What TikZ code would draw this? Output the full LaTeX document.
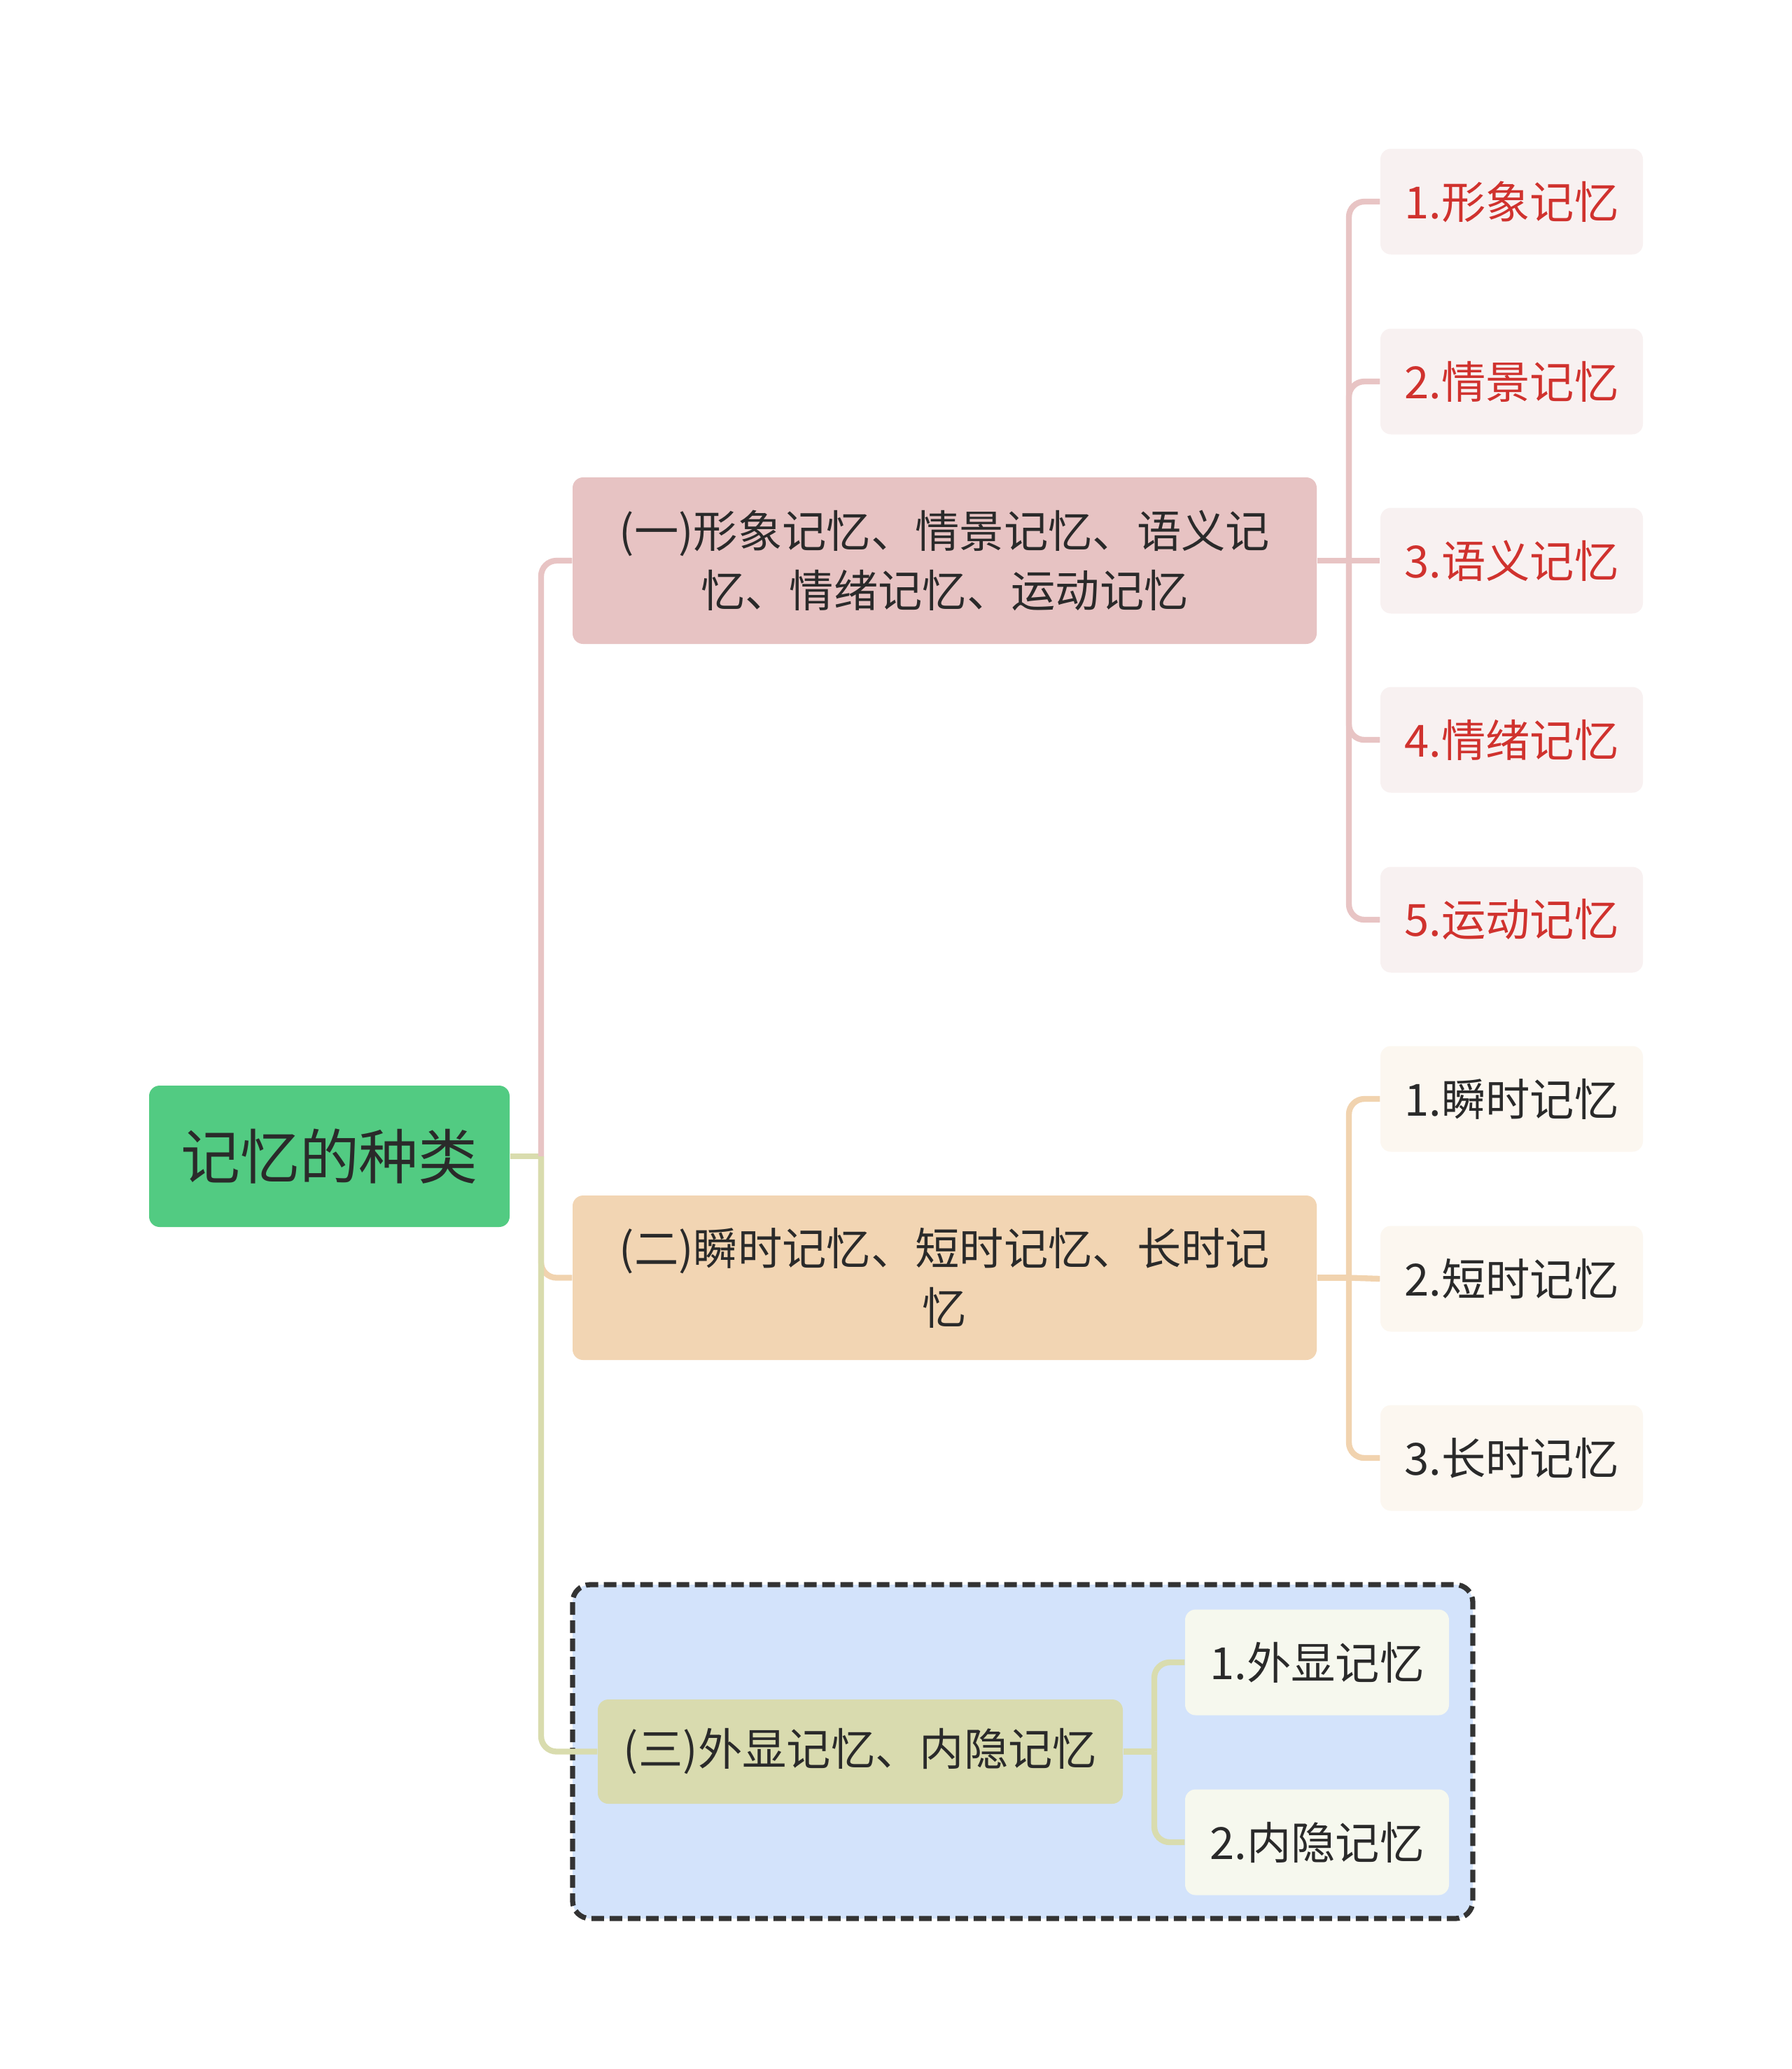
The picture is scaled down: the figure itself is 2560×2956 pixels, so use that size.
\documentclass[tikz,border=0pt]{standalone}
\usepackage{fontspec}
\setmainfont{Noto Sans CJK SC}
\definecolor{rootfill}{HTML}{52CB82}
\definecolor{txt}{HTML}{2A2A2A}
\definecolor{pinkfill}{HTML}{E7C3C3}
\definecolor{pinkline}{HTML}{E8C4C4}
\definecolor{peachfill}{HTML}{F2D5B3}
\definecolor{peachline}{HTML}{F1D3AF}
\definecolor{olivefill}{HTML}{D9DBAF}
\definecolor{oliveline}{HTML}{D9DCAE}
\definecolor{pinkchild}{HTML}{F8F1F1}
\definecolor{peachchild}{HTML}{FCF7F0}
\definecolor{olivechild}{HTML}{F6F8EE}
\definecolor{redtxt}{HTML}{D0322E}
\definecolor{bluebg}{HTML}{D3E3FB}
\definecolor{dashcol}{HTML}{333333}
\begin{document}
\begin{tikzpicture}[x=0.3pt,y=-0.3pt,
  box/.style={rounded corners=4.5pt, inner sep=0pt, align=center, text=txt, font=\fontsize{19}{25.5}\selectfont},
  rootbox/.style={box, fill=rootfill, minimum width=154.5pt, minimum height=60.6pt, font=\fontsize{25.5}{30}\selectfont},
  branchbox/.style={box, minimum width=318.9pt},
  childbox/.style={box, minimum width=112.5pt, minimum height=45.3pt},
  conn/.style={line width=2.5pt},
  rconn/.style={conn, rounded corners=6.6pt}
]
\useasboundingbox (0,0) rectangle (2560,2956);
\fill[white] (0,0) rectangle (2560,2956);

% dashed summary region
\draw[fill=bluebg, draw=dashcol, line width=2.2pt, dash pattern=on 5.4pt off 2.4pt, rounded corners=7.5pt]
  (818,2264) rectangle (2104,2741);

% nodes
\node[rootbox] (root) at (470.5,1652) {记忆的种类};

\node[branchbox, fill=pinkfill, minimum height=71.4pt] (b1) at (1349.5,801)
  {(一)形象记忆、情景记忆、语义记\\忆、情绪记忆、运动记忆};
\node[branchbox, fill=peachfill, minimum height=70.5pt] (b2) at (1349.5,1825.5)
  {(二)瞬时记忆、短时记忆、长时记\\忆};
\node[box, fill=olivefill, minimum width=225pt, minimum height=44.7pt] (b3) at (1229,2502.5)
  {(三)外显记忆、内隐记忆};

\foreach \i/\y/\t in {1/288/1.形象记忆, 2/545/2.情景记忆, 3/801/3.语义记忆, 4/1057/4.情绪记忆, 5/1314/5.运动记忆}
  \node[childbox, fill=pinkchild, text=redtxt] (a\i) at (2159.5,\y) {\t};
\foreach \i/\y/\t in {1/1570/1.瞬时记忆, 2/1827/2.短时记忆, 3/2083/3.长时记忆}
  \node[childbox, fill=peachchild] (p\i) at (2159.5,\y) {\t};
\foreach \i/\y/\t in {1/2375/1.外显记忆, 2/2632/2.内隐记忆}
  \node[childbox, fill=olivechild, minimum width=113.1pt] (o\i) at (1881.5,\y) {\t};

% junction coordinates
\coordinate (trunk) at (773,1652);
\coordinate (j1) at (1927,801);
\coordinate (j2) at (1927,1825.5);
\coordinate (j3) at (1649,2502.5);

% root connectors
\draw[rconn, peachline] (trunk) |- (b2.west);
\draw[rconn, oliveline] (trunk) |- (b3.west);
\draw[conn, oliveline] (root.east) -- (trunk);
\draw[rconn, pinkline] (trunk) |- (b1.west);

% branch 1 children
\draw[conn, pinkline] (b1.east) -- (j1);
\foreach \i in {1,2,4,5} \draw[rconn, pinkline] (j1) |- (a\i.west);
\draw[conn, pinkline] (j1) -- (a3.west);

% branch 2 children
\draw[conn, peachline] (b2.east) -- (j2);
\foreach \i in {1,3} \draw[rconn, peachline] (j2) |- (p\i.west);
\draw[conn, peachline] (j2) -- (p2.west);

% branch 3 children
\draw[conn, oliveline] (b3.east) -- (j3);
\foreach \i in {1,2} \draw[rconn, oliveline] (j3) |- (o\i.west);
\end{tikzpicture}
\end{document}
